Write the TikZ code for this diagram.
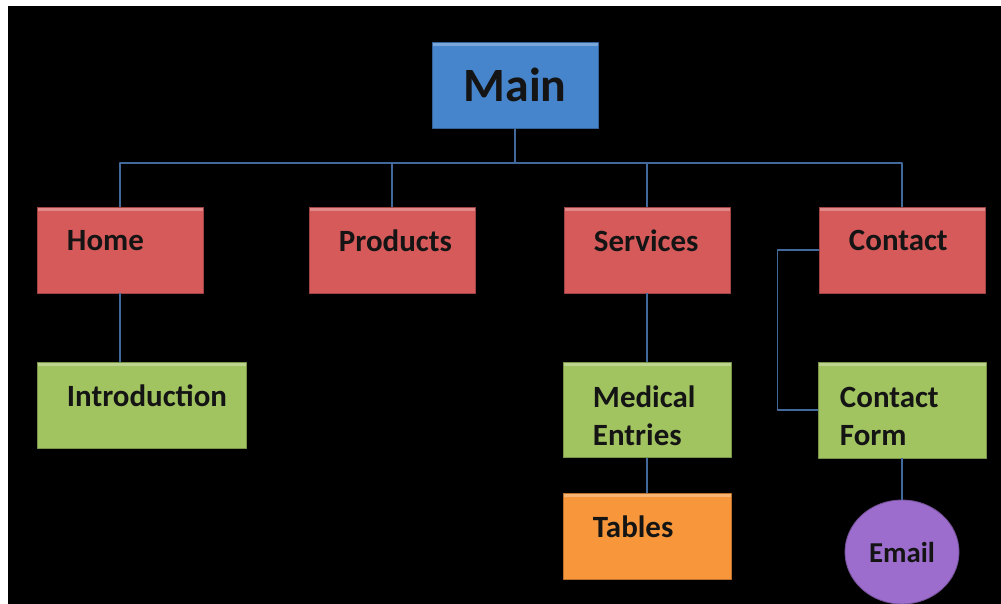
\documentclass[tikz,border=0pt]{standalone}
\usepackage{fontspec}
\setmainfont{Carlito}
\usepackage{tikz}
\usetikzlibrary{shapes.geometric}
\usepackage{xcolor}
\definecolor{mainblue}{HTML}{4684CC}
\definecolor{sectred}{HTML}{D65A5A}
\definecolor{subgreen}{HTML}{A2C460}
\definecolor{leaforange}{HTML}{F7963A}
\definecolor{mailpurp}{HTML}{9C6DCC}
\definecolor{wire}{HTML}{41699C}
\definecolor{ink}{HTML}{141414}

\begin{document}
\begin{tikzpicture}[x=0.025cm,y=-0.025cm,line join=round,
    box/.style={rectangle,draw=#1!75!black,fill=#1,line width=0.6pt,
      minimum width=4.15cm,minimum height=2.15cm,inner xsep=0.75cm,
      text width=2.65cm,align=left,text=ink,
      font=\fontsize{22}{27}\selectfont\bfseries,
      path picture={\fill[#1!72!white] (path picture bounding box.north west)
        rectangle ([yshift=-2.5pt]path picture bounding box.north east);}},
    oneline/.style={text depth=14pt},
    twoline/.style={execute at begin node=\rule{0pt}{24pt}},
    wires/.style={draw=wire,line width=1pt}]
  % page
  \useasboundingbox (0,0) rectangle (1001,604);
  \fill[white] (0,0) rectangle (1001,604);
  \fill[black] (8,6) rectangle (1001,604);
  % top
  \node[box=mainblue,align=center,
    font=\fontsize{34}{40}\selectfont\bfseries] (main) at (515,85) {Main};
  % sections
  \node[box=sectred,oneline] (home) at (120,250) {Home};
  \node[box=sectred,oneline] (products) at (392,250) {Products};
  \node[box=sectred,oneline] (services) at (647,250) {Services};
  \node[box=sectred,oneline] (contact) at (902,250) {Contact};
  % sub pages
  \node[box=subgreen,oneline,minimum width=5.225cm,text width=3.725cm] (intro) at (141.5,405) {Introduction};
  \node[box=subgreen,twoline,minimum width=4.2cm,text width=2.7cm,minimum height=2.375cm] (medical) at (647,410) {Medical\\Entries};
  \node[box=leaforange,oneline,minimum width=4.2cm,text width=2.7cm] (tables) at (647,536) {Tables};
  \node[box=subgreen,twoline,minimum width=4.2cm,inner xsep=0.55cm,text width=3.1cm,minimum height=2.4cm] (cform) at (902,410) {Contact\\Form};
  \node[ellipse,draw=mailpurp!75!black,fill=mailpurp,line width=0.6pt,
    minimum width=2.85cm,minimum height=2.6cm,text=ink,
    font=\fontsize{20.5}{24}\selectfont\bfseries] (email) at (902,552) {Email};
  % connectors
  \coordinate (bus) at (515,163);
  \draw[wires] (main.south) -- (bus);
  \draw[wires] (bus) -| (home.north);
  \draw[wires] (bus) -| (products.north);
  \draw[wires] (bus) -| (services.north);
  \draw[wires] (bus) -| (contact.north);
  \draw[wires] (home.south) -- (home.south |- intro.north);
  \draw[wires] (services.south) -- (medical.north);
  \draw[wires] (medical.south) -- (tables.north);
  \draw[wires] (contact.west) -- ++(-41,0) |- (cform.west);
  \draw[wires] (email.north |- cform.south) -- (email.north);
\end{tikzpicture}
\end{document}
